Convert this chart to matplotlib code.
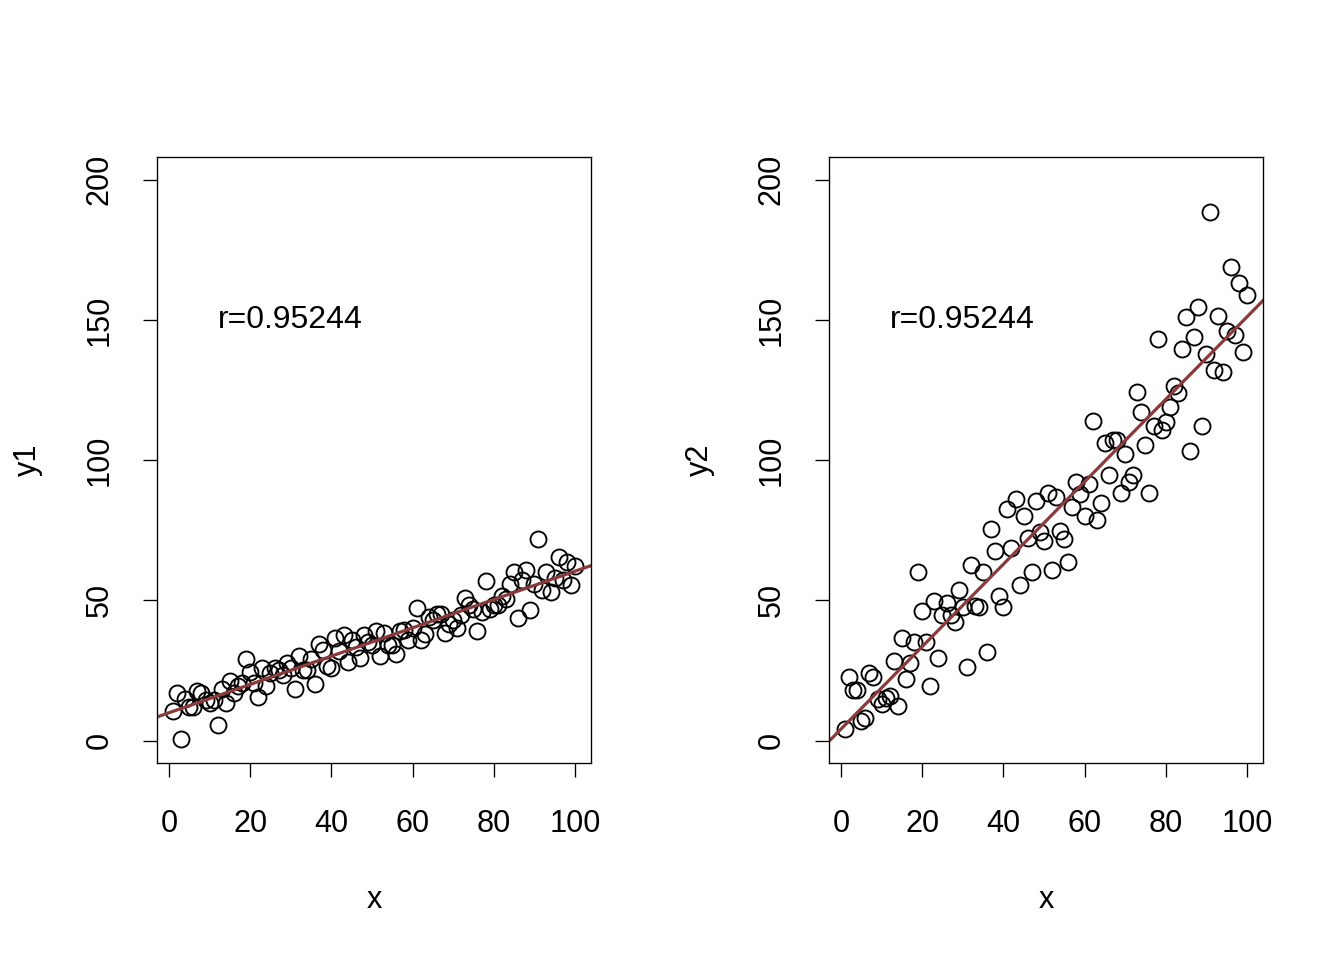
import numpy as np
import matplotlib
matplotlib.use("Agg")
import matplotlib.pyplot as plt

plt.rcParams['font.family'] = ['Liberation Sans', 'DejaVu Sans']

x = list(range(1, 101))

y1 = [10.7, 17.0, 0.7, 15.0, 12.0, 12.0, 17.5, 17.0, 14.5, 13.5,
      14.5, 5.7, 18.5, 13.5, 21.4, 17.0, 19.6, 20.7, 29.2, 24.6,
      20.7, 15.7, 25.7, 19.3, 24.2, 26.0, 25.3, 23.5, 27.5, 26.0,
      18.5, 30.3, 25.3, 25.0, 29.2, 20.0, 34.6, 32.4, 26.7, 25.7,
      36.7, 32.0, 37.8, 28.0, 36.0, 33.5, 29.6, 37.8, 35.0, 34.0,
      38.9, 30.0, 38.5, 34.0, 34.0, 30.7, 38.9, 39.6, 36.0, 40.0,
      47.4, 35.7, 38.0, 44.0, 43.0, 45.3, 45.0, 38.5, 41.4, 43.0,
      40.0, 44.6, 51.0, 48.5, 47.0, 38.9, 46.0, 57.0, 47.0, 48.5,
      48.5, 51.7, 50.6, 56.0, 60.0, 43.8, 57.4, 61.0, 46.7, 56.0,
      72.0, 53.8, 60.0, 53.0, 58.0, 65.6, 57.4, 63.5, 55.6, 62.4]

y2 = [4.3, 22.8, 18.0, 18.2, 7.1, 8.2, 24.2, 22.5, 15.0, 13.2,
      15.3, 16.0, 28.2, 12.5, 36.4, 22.0, 27.8, 35.0, 60.0, 46.3,
      35.0, 19.3, 49.6, 29.6, 44.6, 49.2, 44.6, 42.4, 53.8, 47.8,
      26.4, 62.7, 48.0, 47.8, 60.0, 31.7, 75.6, 67.7, 51.7, 47.8,
      82.4, 68.8, 86.3, 55.3, 80.2, 72.4, 60.0, 85.6, 74.5, 71.3,
      88.4, 61.0, 87.0, 74.9, 72.0, 63.8, 83.4, 92.3, 88.0, 79.9,
      91.6, 114.0, 78.8, 84.8, 106.2, 94.8, 107.3, 107.3, 88.4, 102.3,
      92.3, 94.8, 124.4, 117.0, 105.5, 88.4, 112.3, 143.3, 110.9, 113.7,
      119.0, 126.6, 124.0, 139.7, 151.2, 103.4, 144.0, 154.7, 112.0, 138.0,
      188.6, 132.3, 151.5, 131.6, 146.2, 169.0, 144.7, 163.0, 138.7, 159.0]

r_label = "r=0.95244"

fig = plt.figure(figsize=(14, 10), dpi=96)
panels = [(y1, "y1", 0.1168), (y2, "y2", 0.6168)]

for yv, name, left in panels:
    ax = fig.add_axes([left, 0.2052, 0.3229, 0.631])
    ax.plot(x, yv, 'o', mfc='none', mec='black', ms=12, mew=1.4)
    # least squares line, drawn across the whole panel like abline
    b, a = np.polyfit(x, yv, 1)
    xl = np.array([-10, 110])
    ax.plot(xl, a + b * xl, color='#8B3A3A', lw=2.4)
    ax.set_xlim(-2.96, 103.96)
    ax.set_ylim(-8, 208)
    ax.set_xticks([0, 20, 40, 60, 80, 100])
    ax.set_yticks([0, 50, 100, 150, 200])
    ax.tick_params(direction='out', length=10.5, width=1.0, labelsize=23)
    ax.tick_params(axis='x', pad=24)
    ax.tick_params(axis='y', pad=21)
    for lab in ax.get_yticklabels():
        lab.set_rotation(90)
        lab.set_va('center')
    for sp in ax.spines.values():
        sp.set_linewidth(1.0)
    ax.text(30, 150, r_label, ha='center', va='center', fontsize=24)
    ax.set_xlabel("x", fontsize=23)
    ax.xaxis.label.set_va('center')
    ax.xaxis.set_label_coords(0.5, -0.226)
    ax.set_ylabel(name, fontsize=23)
    ax.yaxis.label.set_va('center')
    ax.yaxis.set_label_coords(-0.297, 0.5)

fig.savefig("out.png", dpi=96)
